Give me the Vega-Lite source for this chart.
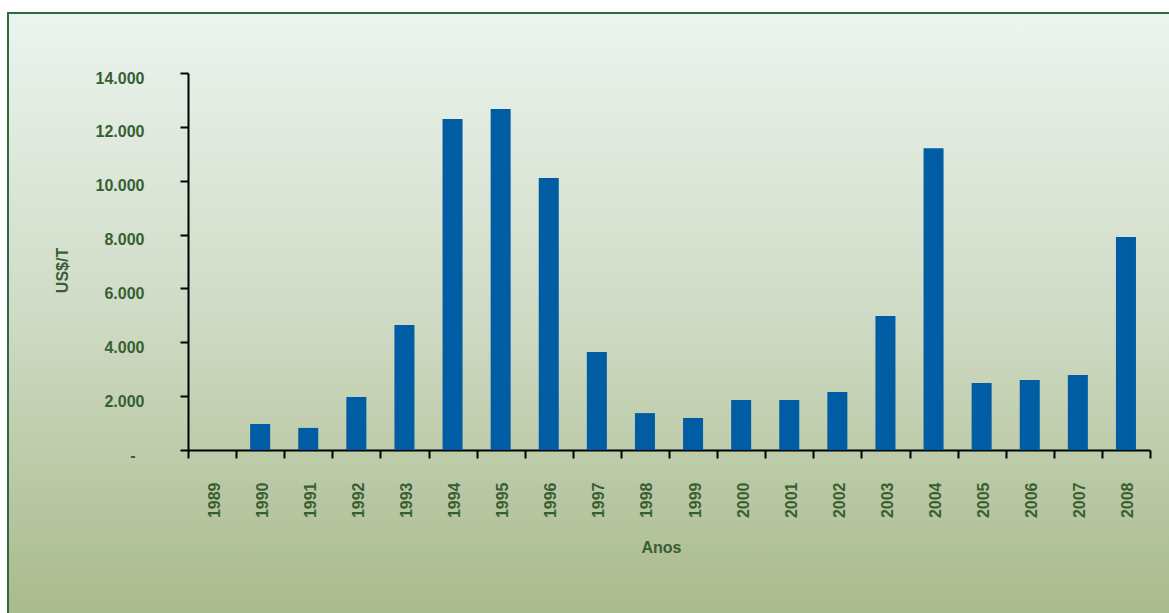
{
  "$schema": "https://vega.github.io/schema/vega-lite/v6.json",
  "width": 1163,
  "height": 602,
  "autosize": {"type": "none"},
  "padding": {"left": 8, "top": 13, "right": -2, "bottom": -2},
  "background": "#ffffff",
  "view": {
    "fill": {"gradient": "linear", "x1": 0, "y1": 0, "x2": 0, "y2": 1,
      "stops": [
        {"offset": 0, "color": "#ebf4ef"},
        {"offset": 0.5, "color": "#cfdbc5"},
        {"offset": 1, "color": "#a9ba8b"}
      ]},
    "stroke": "#2b6b3f",
    "strokeWidth": 2
  },
  "data": {
    "values": [
      {"ano": "1989", "valor": 0},
      {"ano": "1990", "valor": 970},
      {"ano": "1991", "valor": 820},
      {"ano": "1992", "valor": 1970},
      {"ano": "1993", "valor": 4640},
      {"ano": "1994", "valor": 12290},
      {"ano": "1995", "valor": 12660},
      {"ano": "1996", "valor": 10100},
      {"ano": "1997", "valor": 3640},
      {"ano": "1998", "valor": 1370},
      {"ano": "1999", "valor": 1190},
      {"ano": "2000", "valor": 1860},
      {"ano": "2001", "valor": 1860},
      {"ano": "2002", "valor": 2150},
      {"ano": "2003", "valor": 4980},
      {"ano": "2004", "valor": 11210},
      {"ano": "2005", "valor": 2490},
      {"ano": "2006", "valor": 2600},
      {"ano": "2007", "valor": 2785},
      {"ano": "2008", "valor": 7910}
    ]
  },
  "mark": {"type": "bar", "color": "#005ca3", "width": {"band": 0.416}},
  "encoding": {
    "x": {
      "field": "ano", "type": "ordinal", "sort": null,
      "scale": {"range": [180, 1142], "paddingInner": 0, "paddingOuter": 0},
      "axis": {
        "orient": "bottom", "offset": -165, "tickBand": "extent",
        "tickSize": 8, "tickWidth": 2, "tickColor": "#000000",
        "domainColor": "#000000", "domainWidth": 2,
        "labelAngle": 270, "labelAlign": "right", "labelBaseline": "middle",
        "labelPadding": 24, "labelOffset": 2, "labelOverlap": false,
        "labelFont": "Liberation Sans", "labelFontSize": 16, "labelFontWeight": "bold", "labelColor": "#375f33",
        "title": "Anos", "titleFont": "Liberation Sans", "titleFontSize": 16, "titleFontWeight": "bold", "titleColor": "#375f33",
        "titleX": 653, "titleY": 97, "titleBaseline": "middle", "titleAlign": "center", "titleAngle": 0,
        "grid": false
      }
    },
    "y": {
      "field": "valor", "type": "quantitative",
      "scale": {"domain": [0, 14000], "range": [437, 60], "nice": false},
      "axis": {
        "orient": "left", "offset": -180,
        "values": [0, 2000, 4000, 6000, 8000, 10000, 12000, 14000],
        "labelExpr": "datum.value == 0 ? '-' : replace(format(datum.value, ',.0f'), ',', '.')",
        "tickSize": 8, "tickWidth": 2, "tickColor": "#000000",
        "domainColor": "#000000", "domainWidth": 2,
        "labelPadding": {"condition": {"test": "datum.value == 0", "value": 45}, "value": 36},
        "labelOffset": 5, "labelBaseline": "middle", "labelAlign": "right",
        "labelFont": "Liberation Sans", "labelFontSize": 16, "labelFontWeight": "bold", "labelColor": "#375f33",
        "title": "US$/T", "titleFont": "Liberation Sans", "titleFontSize": 16, "titleFontWeight": "bold", "titleColor": "#375f33",
        "titleX": -126, "titleY": 257, "titleAngle": 270, "titleBaseline": "middle", "titleAlign": "center",
        "grid": false
      }
    }
  }
}
